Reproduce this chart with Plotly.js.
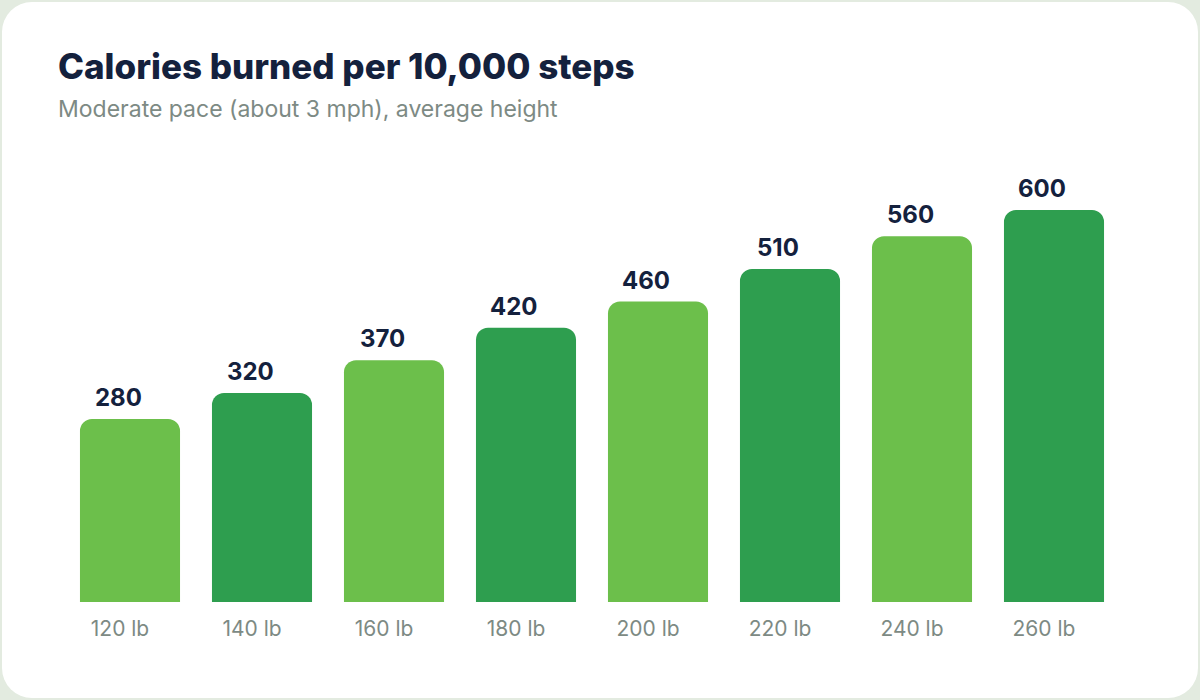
<!DOCTYPE html>
<html>
<head>
<meta charset="utf-8">
<script src="https://cdn.plot.ly/plotly-3.0.1.min.js"></script>
<style>
  html, body { margin: 0; padding: 0; width: 1200px; height: 700px; background: #e3ebe0; overflow: hidden; }
  #card { position: absolute; left: 2px; top: 2px; width: 1196px; height: 696px; background: #ffffff; border-radius: 30px; }
  #plot { position: absolute; left: 0; top: 0; width: 1200px; height: 700px; }
</style>
</head>
<body>
<div id="card"></div>
<div id="plot"></div>
<script>
// weights and calories per 10,000 steps
var weights = ['120 lb', '140 lb', '160 lb', '180 lb', '200 lb', '220 lb', '240 lb', '260 lb'];
var calories = [280, 320, 370, 420, 460, 510, 560, 600];
var barColors = ['#6cbf4b', '#2e9e4f', '#6cbf4b', '#2e9e4f', '#6cbf4b', '#2e9e4f', '#6cbf4b', '#2e9e4f'];

var navy = '#14213d';
var gray = '#7d8a84';
var font = 'Inter, sans-serif';

var trace = {
    type: 'bar',
    x: weights,
    y: calories,
    marker: { color: barColors, cornerradius: 12, line: { width: 0 } },
    hoverinfo: 'skip'
};

// plot area: left 64, top 150, width 1056, height 452
var annos = [];
for (var i = 0; i < weights.length; ++i) {
    annos.push({
        x: weights[i],
        y: calories[i],
        xref: 'x',
        yref: 'y',
        text: String(calories[i]),
        showarrow: false,
        yanchor: 'bottom',
        yshift: 5,
        xshift: -12,
        font: { family: font, size: 24, color: navy, weight: 700 }
    });
}

annos.push({
    text: 'Calories burned per 10,000 steps',
    xref: 'paper', yref: 'paper',
    x: (56 - 64) / 1056, y: 1 + (150 - 66) / 452,
    xanchor: 'left', yanchor: 'middle',
    showarrow: false,
    font: { family: font, size: 35, color: navy, weight: 800 }
});
annos.push({
    text: 'Moderate pace (about 3 mph), average height',
    xref: 'paper', yref: 'paper',
    x: (56 - 64) / 1056, y: 1 + (150 - 109) / 452,
    xanchor: 'left', yanchor: 'middle',
    showarrow: false,
    font: { family: font, size: 23, color: gray }
});

var layout = {
    width: 1200,
    height: 700,
    paper_bgcolor: 'rgba(0,0,0,0)',
    plot_bgcolor: 'rgba(0,0,0,0)',
    margin: { l: 64, r: 80, t: 150, b: 98 },
    bargap: 0.242,
    showlegend: false,
    xaxis: {
        showgrid: false,
        zeroline: false,
        showline: false,
        ticks: '',
        ticklabelstandoff: 12,
        ticklabelshift: -10,
        tickfont: { family: font, size: 21, color: gray }
    },
    yaxis: {
        range: [0, 692],
        visible: false,
        showgrid: false,
        zeroline: false
    },
    annotations: annos
};

Plotly.newPlot('plot', [trace], layout, { displayModeBar: false, staticPlot: true });
</script>
</body>
</html>
